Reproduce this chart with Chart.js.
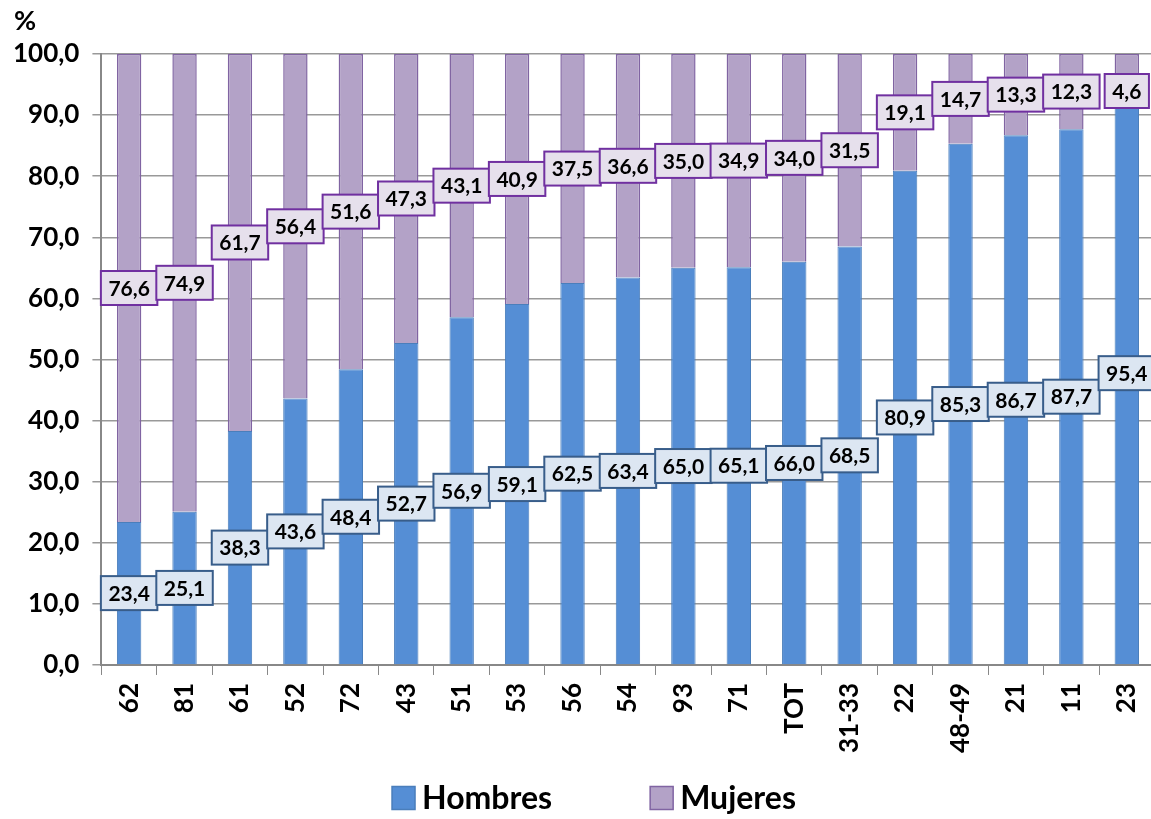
<!DOCTYPE html>
<html lang="es">
<head>
<meta charset="UTF-8">
<title>Hombres y Mujeres (%)</title>
<script src="https://cdn.jsdelivr.net/npm/chart.js"></script>
<style>
    html, body { margin: 0; padding: 0; background: #fff; overflow: hidden; }
    #wrap { width: 1166px; height: 819px; position: relative; }
</style>
</head>
<body>
<div id="wrap"><canvas id="myChart"></canvas></div>
<script>
    const categories = ['62', '81', '61', '52', '72', '43', '51', '53', '56', '54', '93', '71', 'TOT', '31-33', '22', '48-49', '21', '11', '23'];
    const hombres = [23.4, 25.1, 38.3, 43.6, 48.4, 52.7, 56.9, 59.1, 62.5, 63.4, 65.0, 65.1, 66.0, 68.5, 80.9, 85.3, 86.7, 87.7, 95.4];
    const mujeres = [76.6, 74.9, 61.7, 56.4, 51.6, 47.3, 43.1, 40.9, 37.5, 36.6, 35.0, 34.9, 34.0, 31.5, 19.1, 14.7, 13.3, 12.3, 4.6];

    const FONT = 'Lato, "Open Sans", sans-serif';
    const fmt = (v) => v.toFixed(1).replace('.', ',');

    // cajas con el valor en el centro de cada tramo
    const boxLabels = {
        id: 'boxLabels',
        afterDatasetsDraw(chart) {
            const ctx = chart.ctx;
            const area = chart.chartArea;
            ctx.save();
            ctx.font = 'bold 21px ' + FONT;
            ctx.textAlign = 'center';
            ctx.textBaseline = 'middle';
            chart.data.datasets.forEach((ds, i) => {
                const meta = chart.getDatasetMeta(i);
                meta.data.forEach((el, j) => {
                    const txt = fmt(ds.data[j]);
                    let cy = (el.y + el.base) / 2;
                    if (cy < area.top + 37) cy = area.top + 37;
                    const w = ctx.measureText(txt).width + 15;
                    const h = 34;
                    ctx.fillStyle = ds.boxFill;
                    ctx.strokeStyle = ds.boxStroke;
                    ctx.lineWidth = 2;
                    ctx.fillRect(el.x - w / 2, cy - h / 2, w, h);
                    ctx.strokeRect(el.x - w / 2, cy - h / 2, w, h);
                    ctx.fillStyle = '#000';
                    ctx.fillText(txt, el.x, cy + 1);
                });
            });
            ctx.restore();
        }
    };

    // "%" arriba del eje y leyenda abajo
    const extras = {
        id: 'extras',
        afterDraw(chart) {
            const ctx = chart.ctx;
            ctx.save();
            ctx.fillStyle = '#000';
            ctx.font = 'bold 27px ' + FONT;
            ctx.textAlign = 'left';
            ctx.textBaseline = 'top';
            ctx.fillText('%', 14, 8);

            ctx.font = 'bold 32px ' + FONT;
            ctx.textBaseline = 'middle';
            const ds = chart.data.datasets;
            const box = 23, gap = 7, between = 98;
            let total = 0;
            ds.forEach((d, i) => {
                total += box + gap + ctx.measureText(d.label).width;
                if (i > 0) total += between;
            });
            let x = 594 - total / 2;
            const cy = 798;
            ds.forEach((d) => {
                ctx.fillStyle = d.backgroundColor;
                ctx.strokeStyle = d.borderColor;
                ctx.lineWidth = 1.5;
                ctx.fillRect(x, cy - box / 2, box, box);
                ctx.strokeRect(x, cy - box / 2, box, box);
                x += box + gap;
                ctx.fillStyle = '#000';
                ctx.fillText(d.label, x, cy + 1);
                x += ctx.measureText(d.label).width + between;
            });
            ctx.restore();
        }
    };

    const ctx = document.getElementById('myChart').getContext('2d');
    const myChart = new Chart(ctx, {
        type: 'bar',
        data: {
            labels: categories,
            datasets: [{
                label: 'Hombres',
                data: hombres,
                backgroundColor: '#558ed5',
                borderColor: '#4a7ebb',
                borderWidth: 1,
                boxFill: '#dce6f2',
                boxStroke: '#385d8a'
            }, {
                label: 'Mujeres',
                data: mujeres,
                backgroundColor: '#b3a2c7',
                borderColor: '#8064a2',
                borderWidth: 1.5,
                boxFill: '#e6e0ec',
                boxStroke: '#7030a0'
            }]
        },
        options: {
            responsive: true,
            maintainAspectRatio: false,
            animation: false,
            barPercentage: 0.44,
            categoryPercentage: 1,
            layout: { padding: { top: 54, right: 0, left: 0, bottom: 58 } },
            plugins: {
                legend: { display: false },
                tooltip: { enabled: false }
            },
            scales: {
                x: {
                    stacked: true,
                    grid: {
                        offset: true,
                        drawOnChartArea: false,
                        drawTicks: true,
                        tickLength: 10,
                        color: '#888'
                    },
                    border: { color: '#888', width: 2 },
                    ticks: {
                        color: '#000',
                        minRotation: 90,
                        maxRotation: 90,
                        padding: 8,
                        font: { family: FONT, size: 26, weight: 'bold' }
                    }
                },
                y: {
                    stacked: true,
                    min: 0,
                    max: 100,
                    grid: { color: '#999', lineWidth: 1.5, tickLength: 9 },
                    border: { color: '#888', width: 2 },
                    ticks: {
                        stepSize: 10,
                        color: '#000',
                        padding: 13,
                        font: { family: FONT, size: 26, weight: 'bold' },
                        callback: (v) => fmt(v)
                    }
                }
            }
        },
        plugins: [boxLabels, extras]
    });
</script>
</body>
</html>
